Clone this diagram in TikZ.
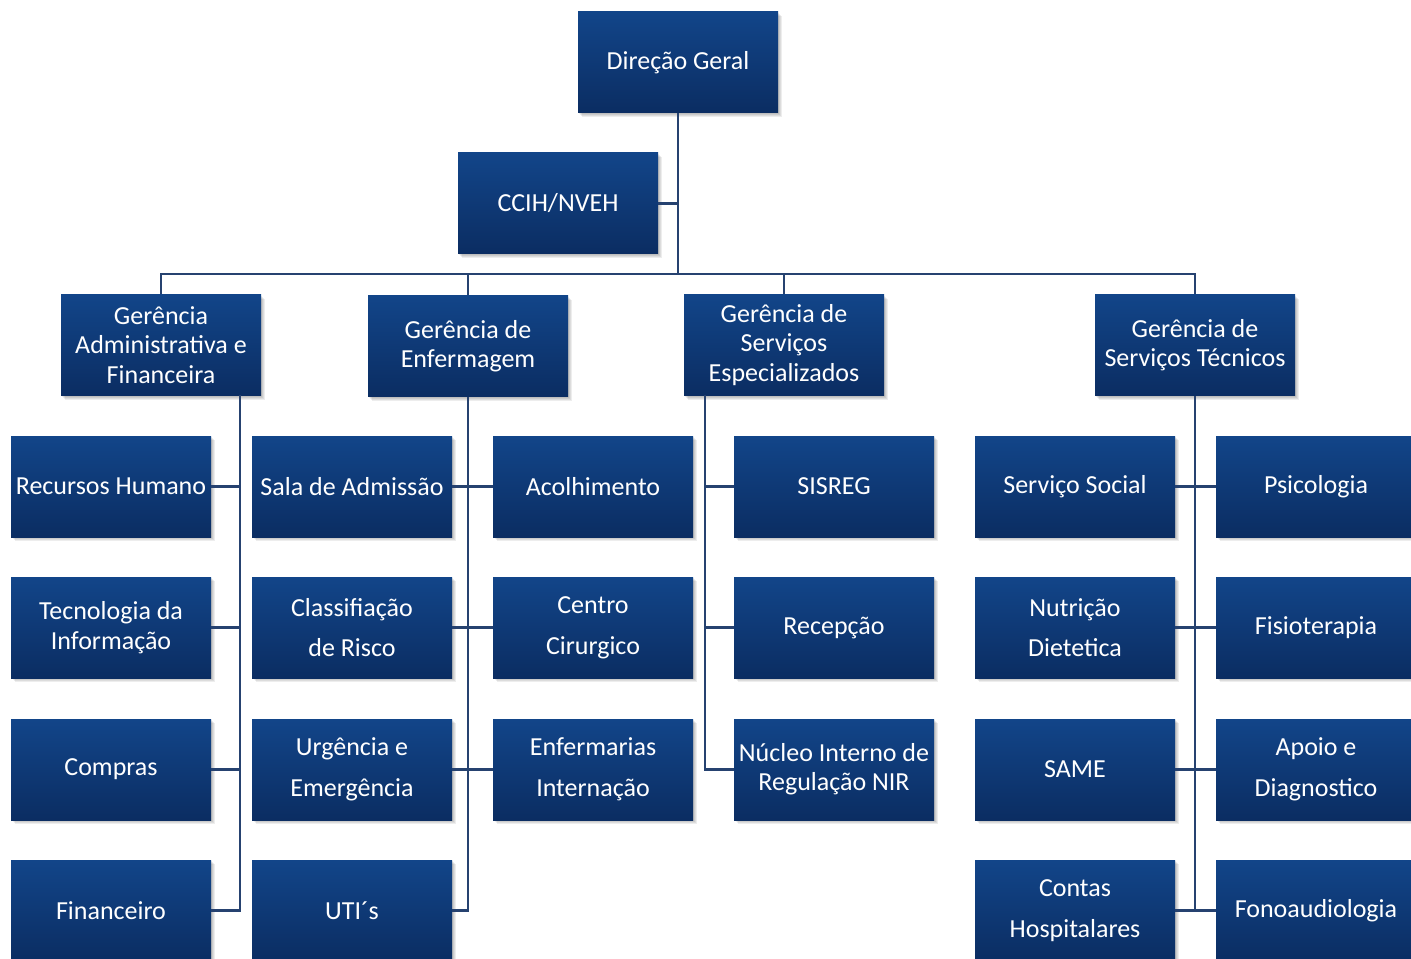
\documentclass[tikz,border=0pt]{standalone}
\usepackage{fontspec}
\setmainfont{Carlito}
\definecolor{boxtop}{RGB}{18,69,137}
\definecolor{boxbot}{RGB}{11,45,98}
\definecolor{linec}{RGB}{38,66,112}
\tikzset{
  softshadow/.style={preaction={fill=black, opacity=0.07, transform canvas={xshift=#1, yshift=-#1}}},
  orgbox/.style={rectangle, minimum width=150pt, minimum height=75.75pt, inner sep=0pt,
    top color=boxtop, bottom color=boxbot, text=white, align=center,
    font=\fontsize{19.5pt}{22pt}\selectfont,
    softshadow=0.8pt, softshadow=1.6pt, softshadow=2.4pt, softshadow=3.2pt},
  wide/.style={font=\fontsize{19.5pt}{30.5pt}\selectfont},
  conn/.style={draw=linec, line width=1.6pt}
}
\begin{document}
\begin{tikzpicture}[x=0.75pt,y=-0.75pt]
\useasboundingbox (0,0) rectangle (1411,959);
% top level
\node[orgbox] (dg) at (678,62.5) {Direção Geral};
\node[orgbox] (ccih) at (558,203.5) {CCIH/NVEH};
% managers
\node[orgbox] (ga) at (161,345) {Gerência\\Administrativa e\\Financeira};
\node[orgbox] (ge) at (468,346) {Gerência de\\Enfermagem};
\node[orgbox] (gse) at (784,345) {Gerência de\\Serviços\\Especializados};
\node[orgbox] (gst) at (1195,345) {Gerência de\\Serviços Técnicos};
% column 1
\node[orgbox] (rh) at (111,486.5) {Recursos Humano};
\node[orgbox] (ti) at (111,627.5) {Tecnologia da\\Informação};
\node[orgbox] (comp) at (111,769.5) {Compras};
\node[orgbox] (fin) at (111,910.5) {Financeiro};
% column 2
\node[orgbox] (sa) at (352,486.5) {Sala de Admissão};
\node[orgbox,wide] (cr) at (352,627.5) {Classifiação\\de Risco};
\node[orgbox,wide] (ue) at (352,769.5) {Urgência e\\Emergência};
\node[orgbox] (uti) at (352,910.5) {UTI´s};
% column 3
\node[orgbox] (ac) at (593,486.5) {Acolhimento};
\node[orgbox,wide] (cc) at (593,627.5) {Centro\\Cirurgico};
\node[orgbox,wide] (ei) at (593,769.5) {Enfermarias\\Internação};
% column 4
\node[orgbox] (sis) at (834,486.5) {SISREG};
\node[orgbox] (rec) at (834,627.5) {Recepção};
\node[orgbox] (nir) at (834,769.5) {Núcleo Interno de\\Regulação NIR};
% column 5
\node[orgbox] (ss) at (1075,486.5) {Serviço Social};
\node[orgbox,wide] (nd) at (1075,627.5) {Nutrição\\Dietetica};
\node[orgbox] (same) at (1075,769.5) {SAME};
\node[orgbox,wide] (ch) at (1075,910.5) {Contas\\Hospitalares};
% column 6
\node[orgbox] (psi) at (1316,486.5) {Psicologia};
\node[orgbox] (fis) at (1316,627.5) {Fisioterapia};
\node[orgbox,wide] (ad) at (1316,769.5) {Apoio e\\Diagnostico};
\node[orgbox] (fono) at (1316,910.5) {Fonoaudiologia};
% coordinates
\coordinate (bus) at (678,274);
\coordinate (a0) at (240,395.5);
\coordinate (e0) at (705,395.5);
% top connectors
\draw[conn] (dg.south) -- (bus);
\draw[conn] (ccih.east) -- (ccih.east -| bus);
\draw[conn] (ga.north) |- (bus) -| (gst.north);
\draw[conn] (ge.north) -- (ge.north |- bus);
\draw[conn] (gse.north) -- (gse.north |- bus);
% admin
\draw[conn] (a0) |- (fin.east);
\draw[conn] (rh.east) -- (rh.east -| a0);
\draw[conn] (ti.east) -- (ti.east -| a0);
\draw[conn] (comp.east) -- (comp.east -| a0);
% enfermagem
\draw[conn] (ge.south) |- (uti.east);
\draw[conn] (sa.east) -- (ac.west);
\draw[conn] (cr.east) -- (cc.west);
\draw[conn] (ue.east) -- (ei.west);
% especializados
\draw[conn] (e0) |- (nir.west);
\draw[conn] (sis.west) -- (sis.west -| e0);
\draw[conn] (rec.west) -- (rec.west -| e0);
% tecnicos
\draw[conn] (gst.south) -- (gst.south |- fono.west);
\draw[conn] (ss.east) -- (psi.west);
\draw[conn] (nd.east) -- (fis.west);
\draw[conn] (same.east) -- (ad.west);
\draw[conn] (ch.east) -- (fono.west);
\end{tikzpicture}
\end{document}
